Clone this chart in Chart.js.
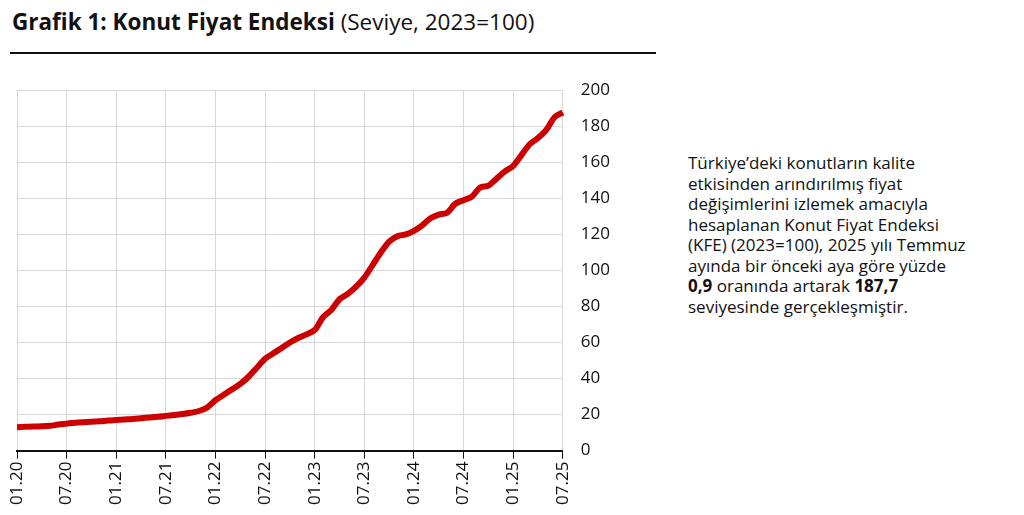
<!DOCTYPE html>
<html>
<head>
<meta charset="utf-8">
<script src="https://cdn.jsdelivr.net/npm/chart.js@4"></script>
<style>
  body { margin: 0; width: 1024px; height: 515px; background: #fff; font-family: "Open Sans", sans-serif; position: relative; overflow: hidden; }
  #title { position: absolute; left: 12px; top: 6px; font-size: 22.5px; color: #111; }
  #rule { position: absolute; left: 10px; top: 52px; width: 646px; border-top: 2px solid #111; }
  #box { position: absolute; left: 0; top: 62px; width: 650px; height: 450px; }
  #note { position: absolute; left: 688px; top: 153px; width: 335px; font-size: 17px; line-height: 20.5px; color: #111; }
</style>
</head>
<body>
<div id="title"><b>Grafik 1: Konut Fiyat Endeksi</b> (Seviye, 2023=100)</div>
<div id="rule"></div>
<div id="box"><canvas id="kfe"></canvas></div>
<div id="note">Türkiye’deki konutların kalite<br>etkisinden arındırılmış fiyat<br>değişimlerini izlemek amacıyla<br>hesaplanan Konut Fiyat Endeksi<br>(KFE) (2023=100), 2025 yılı Temmuz<br>ayında bir önceki aya göre yüzde<br><b>0,9</b> oranında artarak <b>187,7</b><br>seviyesinde gerçekleşmiştir.</div>
<script>
// months 01.20 .. 07.25
const years = ['20', '21', '22', '23', '24', '25'];
const months = [];
years.forEach(y => {
    for (let m = 1; m <= 12; m++) {
        if (y === '25' && m > 7) break;
        months.push((m < 10 ? '0' : '') + m + '.' + y);
    }
});

const kfeValues = [
    13, 13.2, 13.4, 13.5, 13.8, 14.5, 15, 15.5, 15.8, 16, 16.3, 16.7,
    17, 17.3, 17.6, 18, 18.4, 18.8, 19.3, 19.8, 20.3, 21, 22, 24,
    28, 31, 34, 37, 41, 46, 51, 54, 57, 60, 62.5, 64.5,
    67, 74, 78, 84, 87, 91, 96, 103, 110, 116, 119, 120,
    122, 125, 129, 131, 132, 137, 139, 141, 146, 147, 151, 155,
    158, 164, 170, 173.5, 178, 185, 187.7
];

const yTicks = [0, 20, 40, 60, 80, 100, 120, 140, 160, 180, 200];

new Chart(document.getElementById('kfe'), {
    type: 'line',
    data: {
        labels: months,
        datasets: [{
            data: kfeValues,
            borderColor: '#cc0000',
            borderWidth: 6,
            pointRadius: 0,
            tension: 0.3
        }]
    },
    options: {
        responsive: true,
        maintainAspectRatio: false,
        animation: false,
        layout: { padding: { left: 17, top: 14, right: 22, bottom: 4 } },
        plugins: { legend: { display: false }, tooltip: { enabled: false } },
        scales: {
            x: {
                offset: false,
                grid: {
                    color: ctx => (ctx.index % 6 === 0 ? '#d8d8d8' : 'transparent'),
                    tickColor: ctx => (ctx.index % 6 === 0 ? '#111' : 'transparent'),
                    tickLength: 8,
                    drawOnChartArea: true
                },
                border: { color: '#111', width: 2 },
                ticks: {
                    autoSkip: false,
                    maxRotation: 90,
                    minRotation: 90,
                    color: '#111',
                    font: { family: 'Open Sans', size: 17 },
                    callback: (v, i) => (i % 6 === 0 ? months[i] : '')
                }
            },
            y: {
                position: 'right',
                min: 0,
                max: 200,
                afterBuildTicks: axis => { axis.ticks = yTicks.map(v => ({ value: v })); },
                grid: { color: '#d8d8d8', drawTicks: false },
                border: { display: false },
                ticks: {
                    padding: 18,
                    color: '#111',
                    font: { family: 'Open Sans', size: 17 }
                }
            }
        }
    }
});
</script>
</body>
</html>
